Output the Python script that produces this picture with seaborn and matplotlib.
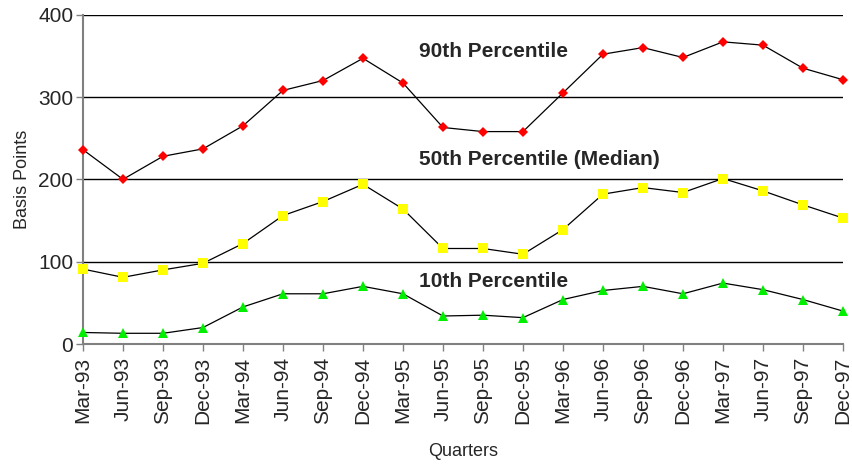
import pandas as pd
import matplotlib
matplotlib.use("Agg")
import matplotlib.pyplot as plt
import seaborn as sns

quarters = ["Mar-93", "Jun-93", "Sep-93", "Dec-93", "Mar-94", "Jun-94", "Sep-94",
            "Dec-94", "Mar-95", "Jun-95", "Sep-95", "Dec-95", "Mar-96", "Jun-96",
            "Sep-96", "Dec-96", "Mar-97", "Jun-97", "Sep-97", "Dec-97"]
p90 = [236, 200, 228, 237, 265, 308, 320, 347, 317, 263, 258, 258, 305, 352,
       360, 348, 367, 363, 335, 321]
p50 = [91, 81, 90, 98, 122, 156, 173, 194, 164, 116, 116, 109, 139, 182,
       190, 184, 201, 186, 169, 153]
p10 = [14, 13, 13, 20, 45, 61, 61, 70, 61, 34, 35, 32, 54, 65,
       70, 61, 74, 66, 54, 40]

df = pd.DataFrame({"Quarter": quarters, "p90": p90, "p50": p50, "p10": p10})

sns.set_style("white")
plt.rcParams["font.family"] = ["Liberation Sans", "DejaVu Sans"]

fig = plt.figure(figsize=(8.52, 4.66), dpi=100)
ax = fig.add_axes([0.0974, 0.2618, 0.892, 0.7067])

series = [("p90", "D", "#ff0000", 5.5),
          ("p50", "s", "#ffff00", 6.5),
          ("p10", "^", "#00ee00", 6.5)]
for col, mk, c, ms in series:
    sns.lineplot(data=df, x="Quarter", y=col, ax=ax, sort=False, color="black",
                 linewidth=0.9, marker=mk, markersize=ms, markerfacecolor=c,
                 markeredgecolor=c, markeredgewidth=0, zorder=3, clip_on=False)

ax.set_xlim(0, len(quarters) - 1)
ax.set_ylim(0, 400)
ax.set_yticks([0, 100, 200, 300, 400])
ax.set_xticks(range(len(quarters)))
ax.set_xticklabels(quarters, rotation=90)
ax.yaxis.grid(True, color="black", linewidth=1)
ax.xaxis.grid(False)
ax.tick_params(axis="both", labelsize=15, direction="out", length=5,
               width=1, color="#808080", pad=2)
ax.tick_params(axis="x", pad=4)
ax.tick_params(left=True, bottom=True)

for s in ["top", "right"]:
    ax.spines[s].set_visible(False)
for s in ["left", "bottom"]:
    ax.spines[s].set_color("#808080")
    ax.spines[s].set_linewidth(1.5)

ax.set_xlabel("Quarters", fontsize=13, labelpad=14)
ax.set_ylabel("Basis Points", fontsize=13, labelpad=5)

ax.text(8.4, 355, "90th Percentile", fontsize=15, fontweight="bold", va="center")
ax.text(8.4, 224, "50th Percentile (Median)", fontsize=15, fontweight="bold", va="center")
ax.text(8.4, 76, "10th Percentile", fontsize=15, fontweight="bold", va="center")

fig.savefig("out.png", dpi=100)
